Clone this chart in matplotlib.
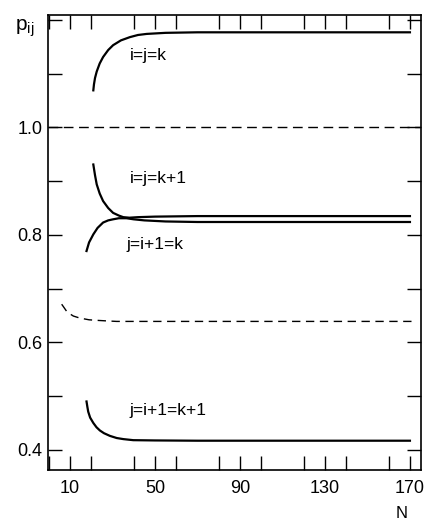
import numpy as np
import matplotlib
matplotlib.use("Agg")
import matplotlib.pyplot as plt
from matplotlib.ticker import MultipleLocator, FixedLocator

plt.rcParams['font.family'] = ['Liberation Sans', 'DejaVu Sans']

# i=j=k
N_a = [21.0, 21.3, 21.8, 22.6, 24.0, 25.6, 28.0, 30.3, 34.0, 38.2, 42.0, 46.1, 55, 70, 100, 130, 170]
p_a = [1.069, 1.080, 1.092, 1.104, 1.119, 1.131, 1.144, 1.153, 1.162, 1.168, 1.172, 1.174, 1.176, 1.177, 1.177, 1.177, 1.177]

# i=j=k+1
N_b = [21.0, 21.8, 22.6, 24.0, 25.6, 28.0, 30.3, 33.0, 35.1, 38.0, 42.0, 50, 70, 100, 130, 170]
p_b = [0.931, 0.911, 0.894, 0.877, 0.863, 0.850, 0.841, 0.836, 0.833, 0.832, 0.833, 0.834, 0.835, 0.835, 0.835, 0.835]

# j=i+1=k
N_c = [17.8, 19.0, 21.0, 23.0, 25.6, 28.0, 30.3, 33.0, 36.6, 40.0, 45, 55, 70, 100, 130, 170]
p_c = [0.770, 0.786, 0.801, 0.813, 0.823, 0.827, 0.829, 0.831, 0.831, 0.829, 0.827, 0.825, 0.824, 0.824, 0.824, 0.824]

# dashed curve
N_d = [6.1, 7.0, 8.4, 10.0, 11.6, 14.0, 16.3, 19.0, 22.6, 27.0, 32.0, 45, 70, 100, 130, 171]
p_d = [0.671, 0.666, 0.658, 0.653, 0.649, 0.646, 0.644, 0.642, 0.641, 0.640, 0.639, 0.639, 0.639, 0.639, 0.639, 0.639]

# j=i+1=k+1
N_e = [17.8, 18.2, 18.6, 19.5, 21.0, 22.5, 24.1, 26.0, 28.8, 32.0, 35.1, 39.8, 50, 70, 100, 130, 170]
p_e = [0.490, 0.480, 0.471, 0.460, 0.450, 0.442, 0.436, 0.431, 0.426, 0.422, 0.420, 0.418, 0.4175, 0.417, 0.417, 0.417, 0.417]

labels = ['i=j=k', 'i=j=k+1', 'j=i+1=k', 'j=i+1=k+1']
label_pos = [(38.2, 1.134), (38.2, 0.905), (36.8, 0.783), (38.2, 0.474)]

x_major = [10, 50, 90, 130, 170]
y_major = [0.4, 0.6, 0.8, 1.0]

fig = plt.figure(figsize=(4.32, 5.21), dpi=100)
ax = fig.add_axes([0.111, 0.098, 0.8635, 0.873])

lw = 1.6
ax.plot(N_a, p_a, color='black', lw=lw)
ax.plot(N_b, p_b, color='black', lw=lw)
ax.plot(N_c, p_c, color='black', lw=lw)
ax.plot(N_e, p_e, color='black', lw=lw)
ax.plot(N_d, p_d, color='black', lw=1.0, dashes=(6, 4))
ax.axhline(1.0, color='black', lw=1.0, dashes=(7, 4))

for t, (x, y) in zip(labels, label_pos):
    ax.text(x, y, t, fontsize=12.5, va='center', ha='left')

ax.set_xlim(-0.35, 175.2)
ax.set_ylim(0.3626, 1.209)

ax.xaxis.set_major_locator(FixedLocator(x_major))
ax.xaxis.set_minor_locator(MultipleLocator(20))
ax.yaxis.set_major_locator(FixedLocator(y_major))
ax.yaxis.set_minor_locator(MultipleLocator(0.1))
ax.set_yticklabels(['0.4', '0.6', '0.8', '1.0'])

ax.tick_params(which='both', direction='in', length=10, width=1.0,
               top=True, right=True, labelsize=13, color='black')
ax.tick_params(axis='x', pad=7)
ax.tick_params(axis='y', pad=4)
for s in ax.spines.values():
    s.set_linewidth(1.2)

fig.text(0.035, 0.946, r'$\mathregular{p_{ij}}$', fontsize=15, va='center', ha='left')
fig.text(0.93, 0.0, 'N', fontsize=12, va='bottom', ha='center')

fig.savefig('out.png', dpi=100)
